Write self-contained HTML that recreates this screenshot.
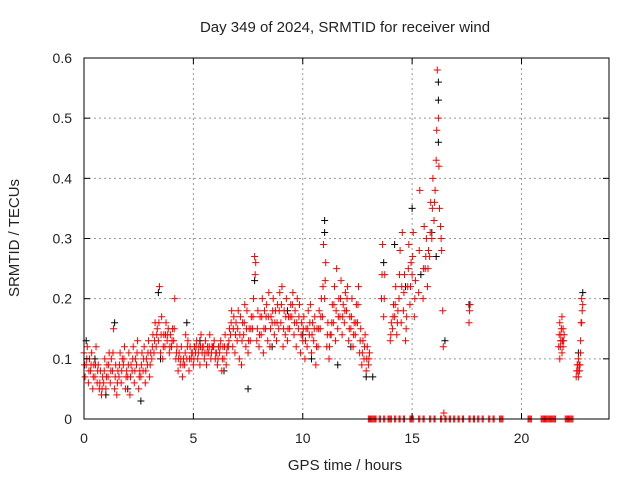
<!DOCTYPE html>
<html><head><meta charset="utf-8"><style>
body{margin:0;background:#fff}
svg text{font-family:"Liberation Sans",sans-serif;fill:#222}
</style></head><body>
<svg id="chart" width="640" height="480" xmlns="http://www.w3.org/2000/svg">
<text x="345" y="32" font-size="15" text-anchor="middle">Day 349 of 2024, SRMTID for receiver wind</text>
<text x="345" y="470" font-size="15" text-anchor="middle">GPS time / hours</text>
<text transform="translate(19,238) rotate(-90)" font-size="15" text-anchor="middle">SRMTID / TECUs</text>
<g id="grid"></g><g id="marks"></g><g id="axes"></g>
</svg>
<script>
const xTicks=[0,5,10,15,20];
const yTicks=[0,0.1,0.2,0.3,0.4,0.5,0.6];
const redT=[0,0.1,0.2,0.3,0.4,0.5,0.6,0.7,0.8,0.9,1,1.1,1.2,1.3,1.4,1.5,1.6,1.7,1.8,1.9,2,2.1,2.2,2.3,2.4,2.5,2.6,2.7,2.8,2.9,3,3.1,3.2,3.3,3.4,3.5,3.6,3.7,3.8,3.9,4,4.1,4.2,4.3,4.4,4.5,4.6,4.7,4.8,4.9,5,5.1,5.2,5.3,5.4,5.5,5.6,5.7,5.8,5.9,6,6.1,6.2,6.3,6.4,6.5,6.6,6.7,6.8,6.9,7,7.1,7.2,7.3,7.4,7.5,7.6,7.7,7.8,7.9,8,8.1,8.2,8.3,8.4,8.5,8.6,8.7,8.8,8.9,9,9.1,9.2,9.3,9.4,9.5,9.6,9.7,9.8,9.9,10,10.1,10.2,10.3,10.4,10.5,10.6,10.7,10.8,10.9,11,11.1,11.2,11.3,11.4,11.5,11.6,11.7,11.8,11.9,12,12.1,12.2,12.3,12.4,12.5,12.6,12.7,12.8,12.9,13,13.6,13.7,14,14.1,14.2,14.3,14.4,14.5,14.6,14.7,14.8,14.9,15,15.1,15.3,15.5,15.6,15.7,15.8,15.9,16,16.1,16.2,16.3,16.4,17.6,21.7,21.75,21.8,21.85,21.9,22.5,22.55,22.6,22.65,22.7,22.75];
const redLo=[.11,.09,.06,.08,.05,.07,.06,.05,.04,.06,.05,.07,.06,.08,.05,.04,.07,.06,.09,.05,.07,.04,.08,.06,.09,.05,.07,.08,.06,.09,.07,.10,.11,.12,.13,.11,.10,.12,.13,.11,.12,.13,.10,.08,.09,.07,.09,.10,.08,.10,.09,.11,.10,.09,.11,.10,.09,.11,.10,.12,.10,.09,.11,.08,.10,.09,.12,.14,.12,.11,.13,.10,.09,.14,.12,.11,.13,.15,.27,.13,.12,.14,.11,.15,.13,.12,.16,.14,.13,.15,.16,.12,.14,.13,.15,.17,.14,.12,.15,.11,.13,.10,.12,.14,.11,.13,.09,.12,.15,.17,.20,.12,.10,.14,.16,.13,.15,.17,.14,.16,.18,.13,.15,.12,.14,.16,.11,.09,.10,.08,.09,.20,.17,.13,.15,.17,.14,.20,.16,.18,.13,.22,.19,.24,.17,.21,.20,.25,.22,.27,.30,.33,.43,.50,.32,.18,.16,.12,.10,.13,.11,.12,.07,.08,.07,.08,.13,.16];
const redHi=[.07,.12,.10,.11,.09,.12,.09,.08,.07,.10,.09,.11,.10,.15,.09,.08,.11,.10,.12,.08,.11,.09,.12,.10,.13,.08,.11,.12,.10,.13,.11,.14,.16,.15,.22,.17,.14,.16,.15,.14,.15,.20,.12,.11,.12,.10,.14,.13,.12,.11,.12,.13,.12,.14,.12,.13,.12,.14,.12,.13,.11,.12,.13,.12,.14,.12,.15,.18,.17,.16,.18,.17,.16,.19,.18,.15,.17,.20,.26,.18,.17,.20,.18,.19,.21,.17,.20,.18,.19,.21,.22,.18,.20,.17,.19,.21,.18,.20,.19,.16,.17,.15,.18,.19,.16,.17,.15,.18,.20,.29,.26,.16,.14,.19,.22,.25,.20,.23,.19,.21,.22,.17,.20,.16,.19,.22,.15,.13,.14,.12,.11,.29,.24,.16,.19,.22,.18,.28,.31,.24,.17,.29,.26,.31,.23,.38,.32,.30,.28,.36,.40,.38,.58,.35,.28,.01,.19,.16,.14,.17,.15,.14,.09,.10,.09,.11,.20,.19];
const redMid=[.09,.10,.08,.09,.07,.09,.08,.06,.05,.08,.07,.09,.08,.11,.07,.06,.09,.08,.10,.07,.09,.07,.10,.08,.11,.07,.09,.10,.08,.11,.09,.12,.13,.14,.16,.14,.12,.14,.14,.12,.13,.15,.11,.10,.10,.09,.11,.12,.10,.11,.10,.12,.11,.12,.12,.11,.11,.12,.11,.12,.11,.10,.12,.10,.12,.11,.13,.16,.15,.14,.15,.14,.13,.16,.15,.13,.15,.17,.24,.15,.14,.17,.15,.17,.17,.15,.18,.16,.16,.18,.19,.15,.17,.15,.17,.19,.16,.16,.17,.14,.15,.13,.15,.16,.14,.15,.12,.15,.17,.22,.23,.14,.12,.16,.19,.18,.17,.20,.17,.18,.20,.15,.17,.14,.16,.19,.13,.11,.12,.10,.10,.24,.20,.14,.17,.19,.16,.24,.22,.21,.15,.25,.22,.27,.20,.28,.25,.27,.25,.31,.35,.36,.48,.42,.30,.12,.18,.14,.12,.15,.13,.13,.08,.09,.08,.09,.16,.18];
const zeroT=[13,13.1,13.2,13.3,13.5,13.7,13.9,14,14.2,14.4,14.6,14.9,15,15.3,15.5,15.8,16,16.3,16.5,16.7,16.9,17.1,17.3,17.6,17.8,18,18.2,18.5,18.7,19,19.1,20.3,20.4,20.9,21,21.1,21.2,21.3,21.4,21.5,22,22.1,22.2,22.3];
const blackT=[0.1,0.5,1.0,1.4,2.0,2.6,3.4,3.5,4.7,5.3,6.4,7.5,7.8,8.6,9.3,10.0,10.4,11.0,11.0,11.6,12.2,12.9,13.2,13.7,14.2,14.7,15.0,15.4,15.9,16.1,16.2,16.2,16.2,16.5,17.6,21.8,22.6,22.8];
const blackV=[.13,.10,.04,.16,.05,.03,.21,.10,.16,.13,.08,.05,.23,.12,.18,.14,.10,.33,.31,.09,.12,.07,.07,.26,.29,.22,.35,.24,.31,.27,.56,.53,.46,.13,.19,.13,.11,.21];
const X0=84,X1=609,Y0=419,Y1=58;
const xs=t=>X0+t/24*(X1-X0), ys=v=>Y0-v/0.6*(Y0-Y1);
const NS="http://www.w3.org/2000/svg";
function mk(tag,attrs,parent){const e=document.createElementNS(NS,tag);for(const k in attrs)e.setAttribute(k,attrs[k]);parent.appendChild(e);return e;}
const grid=document.getElementById('grid'),axes=document.getElementById('axes'),marks=document.getElementById('marks');
xTicks.forEach(t=>{const x=xs(t);
 if(t>0){const g=mk('line',{x1:x,x2:x,y1:Y1,y2:Y0,stroke:'#999','stroke-dasharray':'2,3'},grid);}
 mk('line',{x1:x,x2:x,y1:Y0,y2:Y0-6,stroke:'#000'},axes);mk('line',{x1:x,x2:x,y1:Y1,y2:Y1+6,stroke:'#000'},axes);
 const l=mk('text',{x:x,y:443,'font-size':14,'text-anchor':'middle'},axes);l.textContent=t;
 });
yTicks.forEach(v=>{const y=ys(v);
 if(v>0&&v<0.6){const g=mk('line',{x1:X0,x2:X1,y1:y,y2:y,stroke:'#999','stroke-dasharray':'2,3'},grid);}
 mk('line',{x1:X0,x2:X0+6,y1:y,y2:y,stroke:'#000'},axes);mk('line',{x1:X1,x2:X1-6,y1:y,y2:y,stroke:'#000'},axes);
 const l=mk('text',{x:72,y:y+5,'font-size':14,'text-anchor':'end'},axes);l.textContent=v===0?'0':v.toFixed(1);
 });
const fr=mk('rect',{x:X0,y:Y1,width:X1-X0,height:Y0-Y1,fill:'none',stroke:'#000'},axes);

function plus(t,v,c,name){const x=xs(t),y=ys(v);
 const p=mk('path',{d:`M${x-3.5},${y}h7M${x},${y-3.5}v7`,stroke:c,'stroke-width':1,fill:'none'},marks);
 }
blackT.forEach((t,i)=>plus(t,blackV[i],'#000','black-point'));
redT.forEach((t,i)=>{plus(t,redLo[i],'#f00','red-point');plus(t+0.05,redHi[i],'#f00','red-point');if(redMid[i]!==undefined)plus(t+0.025,redMid[i],'#f00','red-point');});
zeroT.forEach(t=>{plus(t,0,'#f00','zero-point');plus(t+0.05,0,'#f00','zero-point');});
</script>
</body></html>
